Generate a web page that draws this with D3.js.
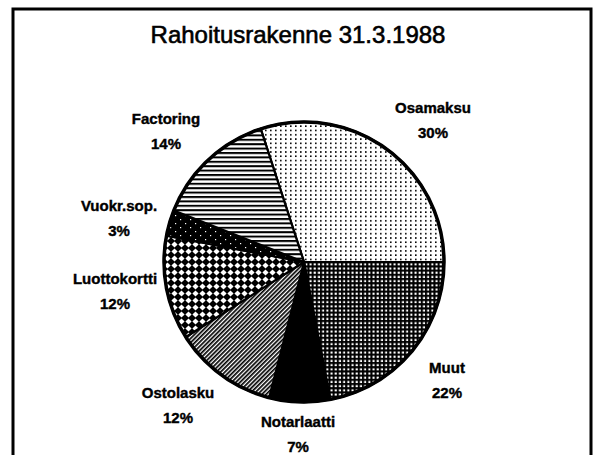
<!DOCTYPE html>
<html><head><meta charset="utf-8">
<script src="https://cdn.jsdelivr.net/npm/d3@7"></script>
<style>body{margin:0;background:#fff}svg{display:block}</style>
</head><body>
<svg id="c" width="594" height="455"></svg>
<script>
// ---- data ----
const title = "Rahoitusrakenne 31.3.1988";
const categories = ["Osamaksu", "Muut", "Notarlaatti", "Ostolasku", "Luottokortti", "Vuokr.sop.", "Factoring"];
const values = [30, 22, 7, 12, 12, 3, 14];
const valueLabels = ["30%", "22%", "7%", "12%", "12%", "3%", "14%"];

// ---- layout ----
const fills = ["dots", "grid", "solid", "diag", "diamond", "dark", "hlines"];
const labelPos = [[433,113],[447,373],[298,427],[178,398],[115,284],[119,211],[166,124]];
const cx = 304, cy = 262, R = 140;
const startDeg = -18;

const svg = d3.select("#c");
const defs = svg.append("defs");

function pat(id, w, h, build, transform) {
  const p = defs.append("pattern").attr("id", id).attr("patternUnits", "userSpaceOnUse")
    .attr("width", w).attr("height", h);
  if (transform) p.attr("patternTransform", transform);
  build(p);
}
pat("dots", 5, 4.3, p => {
  p.append("rect").attr("width", 5).attr("height", 4.3).attr("fill", "#fff");
  p.append("rect").attr("x", 1).attr("y", 1).attr("width", 1.6).attr("height", 1.6).attr("fill", "#000");
});
pat("grid", 4.2, 4.2, p => {
  p.append("rect").attr("width", 4.2).attr("height", 4.2).attr("fill", "#000");
  p.append("rect").attr("x", 1.3).attr("y", 1.3).attr("width", 2.1).attr("height", 2.1).attr("fill", "#fff");
});
pat("diag", 3, 3, p => {
  p.append("rect").attr("width", 3).attr("height", 3).attr("fill", "#fff");
  p.append("rect").attr("width", 3).attr("height", 1.7).attr("fill", "#000");
}, "rotate(-45)");
pat("diamond", 7, 7, p => {
  p.append("rect").attr("width", 7).attr("height", 7).attr("fill", "#000");
  p.append("path").attr("d", "M3.5,0.4L6.6,3.5L3.5,6.6L0.4,3.5Z").attr("fill", "#fff");
});
pat("dark", 10, 8, p => {
  p.append("rect").attr("width", 10).attr("height", 8).attr("fill", "#000");
  [[1,1],[6,5]].forEach(([x,y]) =>
    p.append("rect").attr("x", x).attr("y", y).attr("width", 1.2).attr("height", 1.2).attr("fill", "#fff"));
});
pat("hlines", 4, 4.4, p => {
  p.append("rect").attr("width", 4).attr("height", 4.4).attr("fill", "#fff");
  p.append("rect").attr("width", 4).attr("height", 2).attr("fill", "#000");
});

// frame
svg.append("rect").attr("x", 13).attr("y", 9).attr("width", 578).attr("height", 460)
  .attr("fill", "none").attr("stroke", "#000").attr("stroke-width", 3);

// title
svg.append("text").attr("x", 298).attr("y", 43).attr("text-anchor", "middle")
  .attr("font-family", "'Liberation Sans', Arial, sans-serif").attr("font-size", 24)
  .attr("fill", "#000").attr("stroke", "#000").attr("stroke-width", 0.6).text(title);

const data = categories.map((c, i) => ({ name: c, value: values[i], label: valueLabels[i], fill: fills[i], pos: labelPos[i] }));
const a0 = startDeg * Math.PI / 180;
const pie = d3.pie().sort(null).value(d => d.value).startAngle(a0).endAngle(a0 + 2 * Math.PI);
const arc = d3.arc().innerRadius(0).outerRadius(R);

const g = svg.append("g").attr("transform", `translate(${cx},${cy})`);
g.selectAll("path.slice").data(pie(data)).join("path").attr("class", "slice")
  .attr("d", arc)
  .attr("fill", d => d.data.fill === "solid" ? "#000" : `url(#${d.data.fill})`)
  .attr("stroke", "#000").attr("stroke-width", 2.2).attr("stroke-linejoin", "round");
g.append("circle").attr("r", R).attr("fill", "none").attr("stroke", "#000").attr("stroke-width", 3.5);

// labels
const lg = svg.append("g").attr("font-family", "'Liberation Sans', Arial, sans-serif")
  .attr("font-size", 15).attr("font-weight", "bold").attr("text-anchor", "middle")
  .attr("fill", "#000").attr("stroke", "#000").attr("stroke-width", 0.4);
data.forEach(d => {
  lg.append("text").attr("x", d.pos[0]).attr("y", d.pos[1]).text(d.name);
  lg.append("text").attr("x", d.pos[0]).attr("y", d.pos[1] + 25).text(d.label);
});
</script>
</body></html>
